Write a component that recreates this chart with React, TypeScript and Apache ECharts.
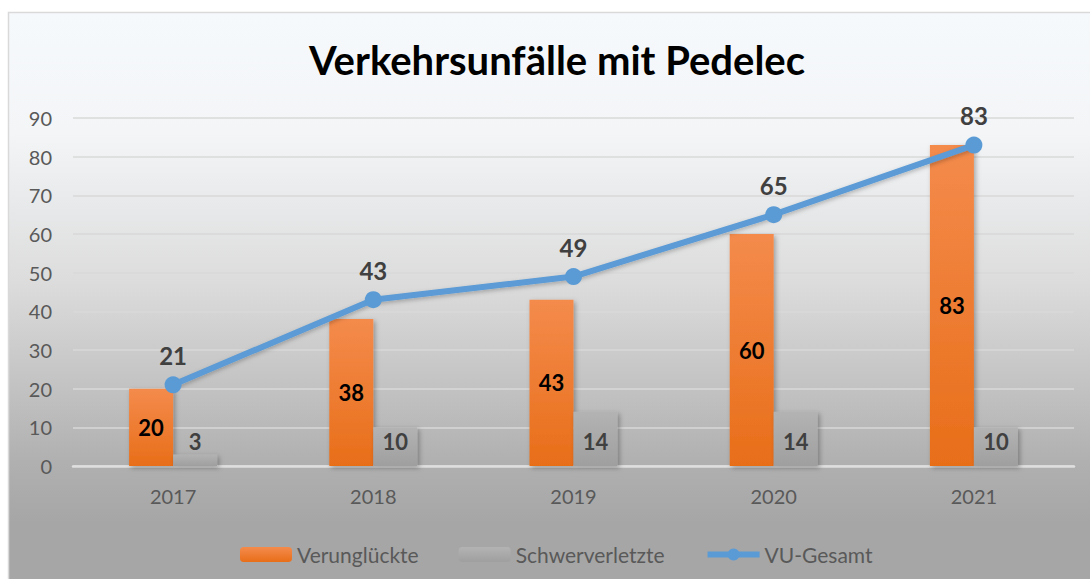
import React, { useEffect, useRef } from "react";
import * as echarts from "echarts";

const years = ["2017", "2018", "2019", "2020", "2021"];
const verunglueckte = [20, 38, 43, 60, 83];
const schwerverletzte = [3, 10, 14, 14, 10];
const vuGesamt = [21, 43, 49, 65, 83];
const seriesNames = ["Verunglückte", "Schwerverletzte", "VU-Gesamt"];
const titleText = "Verkehrsunfälle mit Pedelec";

const FONT = "Lato, 'Open Sans', sans-serif";

export default function App() {
  const ref = useRef<HTMLDivElement>(null);
  useEffect(() => {
    if (!ref.current) return;
    const chart = echarts.init(ref.current, null, { renderer: "svg" });
    const bgGrad = new echarts.graphic.LinearGradient(0, 0, 0, 1, [
      { offset: 0, color: "#f6f9fc" },
      { offset: 0.2, color: "#f3f5f7" },
      { offset: 0.45, color: "#dcdcdc" },
      { offset: 0.75, color: "#b0b0b0" },
      { offset: 0.85, color: "#a6a6a6" },
      { offset: 1, color: "#a6a6a6" },
    ]);
    const orangeGrad = new echarts.graphic.LinearGradient(0, 0, 0, 1, [
      { offset: 0, color: "#f48b4c" },
      { offset: 1, color: "#e86e19" },
    ]);
    const greyGrad = new echarts.graphic.LinearGradient(0, 0, 0, 1, [
      { offset: 0, color: "#b3b3b3" },
      { offset: 1, color: "#9f9f9f" },
    ]);
    chart.setOption({
      animation: false,
      graphic: [
        {
          type: "rect",
          z: -10,
          silent: true,
          shape: { x: 8.5, y: 12.5, width: 1100, height: 600 },
          style: { fill: bgGrad, stroke: "#d9d9d9", lineWidth: 1.5 },
        },
      ],
      title: {
        text: titleText,
        left: 552,
        textAlign: "center",
        top: 35,
        textStyle: { fontFamily: FONT, fontSize: 40, fontWeight: "bold", color: "#000000" },
      },
      legend: {
        left: 235,
        top: 539,
        itemWidth: 52,
        itemHeight: 15,
        itemGap: 40,
        data: [
          { name: seriesNames[0] },
          { name: seriesNames[1] },
          { name: seriesNames[2], lineStyle: { width: 6 } },
        ],
        textStyle: { fontFamily: FONT, fontSize: 21, color: "#595959" },
      },
      grid: { left: 73, right: 16, top: 118, bottom: 113, containLabel: false },
      xAxis: {
        type: "category",
        data: years,
        axisTick: { show: false },
        axisLine: { lineStyle: { color: "#dedede", width: 2.5 } },
        axisLabel: { fontFamily: FONT, fontSize: 20, color: "#595959", margin: 20 },
      },
      yAxis: {
        type: "value",
        min: 0,
        max: 90,
        interval: 10,
        axisLine: { show: false },
        axisTick: { show: false },
        axisLabel: { fontFamily: FONT, fontSize: 20, color: "#595959", margin: 21 },
        splitLine: { lineStyle: { color: "#d9d9d9", width: 1.5 } },
      },
      series: [
        {
          name: seriesNames[0],
          type: "bar",
          data: verunglueckte,
          barWidth: 44,
          barGap: "0%",
          itemStyle: {
            color: orangeGrad,
            shadowBlur: 5,
            shadowOffsetX: 2,
            shadowOffsetY: 2,
            shadowColor: "rgba(0,0,0,0.3)",
          },
          label: {
            show: true,
            position: "inside",
            fontFamily: FONT,
            fontSize: 22,
            fontWeight: "bold",
            color: "#000000",
          },
        },
        {
          name: seriesNames[1],
          type: "bar",
          data: schwerverletzte,
          barWidth: 44,
          barGap: "0%",
          itemStyle: {
            color: greyGrad,
            shadowBlur: 5,
            shadowOffsetX: 2,
            shadowOffsetY: 2,
            shadowColor: "rgba(0,0,0,0.3)",
          },
          label: {
            show: true,
            position: "insideBottom",
            distance: 14,
            fontFamily: FONT,
            fontSize: 22,
            fontWeight: "bold",
            color: "#404040",
          },
        },
        {
          name: seriesNames[2],
          type: "line",
          data: vuGesamt,
          symbol: "circle",
          symbolSize: 17,
          lineStyle: {
            color: "#5b9bd5",
            width: 6,
            shadowBlur: 4,
            shadowOffsetY: 2,
            shadowColor: "rgba(0,0,0,0.25)",
          },
          itemStyle: { color: "#5b9bd5" },
          label: {
            show: true,
            position: "top",
            distance: 9,
            fontFamily: FONT,
            fontSize: 24,
            fontWeight: "bold",
            color: "#404040",
          },
          z: 5,
        },
      ],
    });
    return () => chart.dispose();
  }, []);
  return (
    <div
      ref={ref}
      style={{ position: "absolute", left: 0, top: 0, width: 1090, height: 579 }}
    />
  );
}
